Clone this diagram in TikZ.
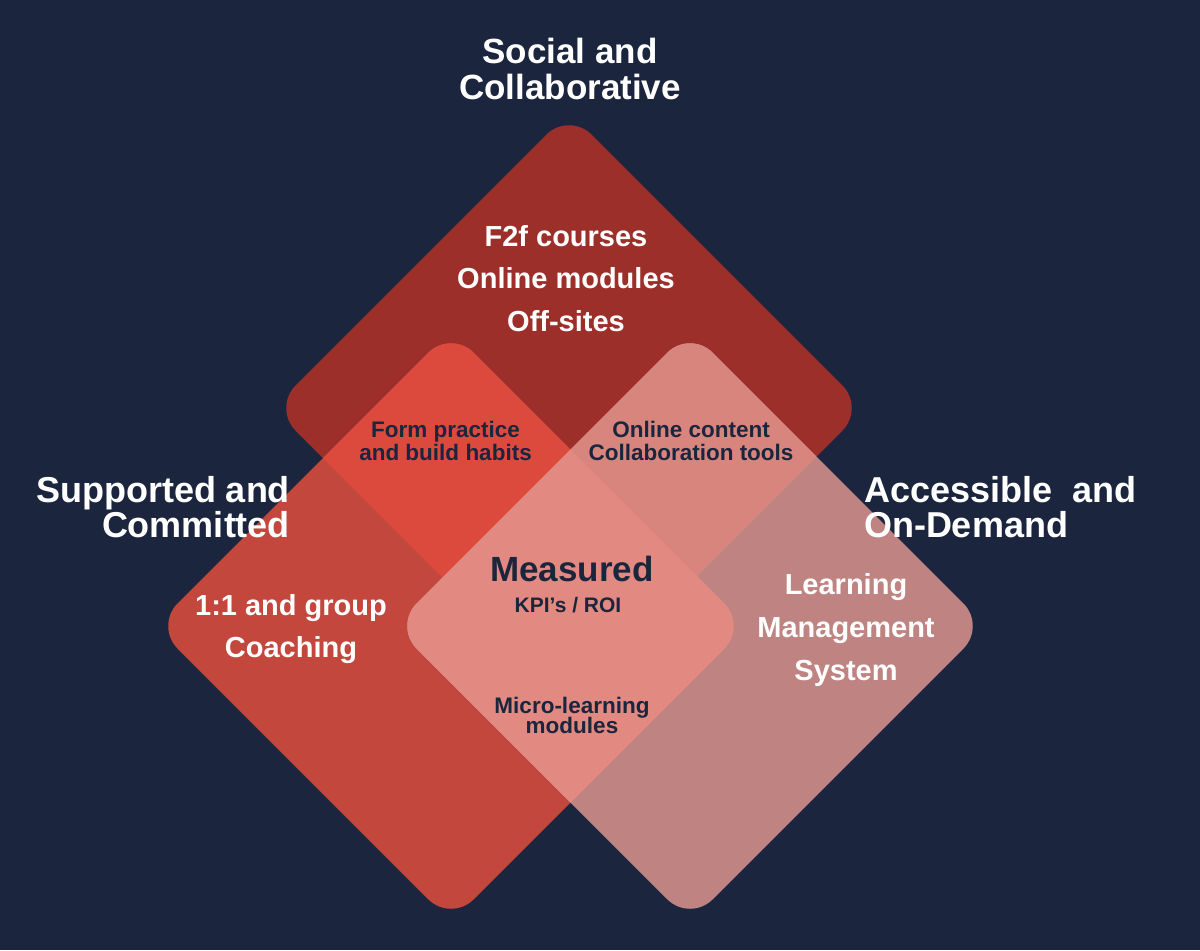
\documentclass[tikz,border=0pt]{standalone}
\usepackage{fontspec}
\setmainfont{Liberation Sans}
\definecolor{bgc}{HTML}{1B263E}
\definecolor{topc}{HTML}{9D2F2A}
\definecolor{leftc}{HTML}{C3473D}
\definecolor{rightc}{HTML}{BF8381}
\definecolor{tlc}{HTML}{DC4A3E}
\definecolor{trc}{HTML}{D7857D}
\definecolor{cenc}{HTML}{E28A81}
\definecolor{navy}{HTML}{1B263E}
\newcommand{\dpath}[2]{(#1-148,#2-148) -- (#1,#2-296) -- (#1+296,#2) -- (#1,#2+296) -- (#1-296,#2) -- cycle}
\newcommand{\fs}[2]{\fontsize{#1}{#2}\selectfont\bfseries\lineskiplimit=-100pt\relax}
\tikzset{
  dia/.style={rounded corners=16pt},
  wlbl/.style={inner sep=0pt, outer sep=0pt, text=white},
  nlbl/.style={inner sep=0pt, outer sep=0pt, text=navy}
}
\begin{document}
\begin{tikzpicture}[x=0.5pt,y=-0.5pt]
\useasboundingbox (0,0) rectangle (1200,950);
\fill[bgc] (0,0) rectangle (1200,950);
% diamonds
\fill[topc,dia] \dpath{569}{408};
\fill[leftc,dia] \dpath{451}{626};
\fill[rightc,dia] \dpath{690}{626};
\begin{scope}
  \clip[dia] \dpath{569}{408};
  \fill[tlc,dia] \dpath{451}{626};
  \fill[trc,dia] \dpath{690}{626};
\end{scope}
\begin{scope}
  \clip[dia] \dpath{451}{626};
  \fill[cenc,dia] \dpath{690}{626};
\end{scope}
% outer titles
\node[wlbl, anchor=north, align=center, font=\fs{17.5}{18}] (social) at (570,38.5) {Social and\\Collaborative};
\node[wlbl, anchor=north east, align=right, font=\fs{18}{17.5}] (supported) at (290,476) {Supported and\\Committed};
\node[wlbl, anchor=north west, align=left, font=\fs{18}{17.5}] (accessible) at (864,476.5) {Accessible\ \ and\\On-Demand};
% white inner labels
\node[wlbl, anchor=north, align=center, font=\fs{14.5}{21.25}] (f2f) at (566,225.2) {F2f courses\\Online modules\\Off-sites};
\node[wlbl, anchor=north, align=center, font=\fs{14.5}{21}] (coach) at (291,594.2) {1:1 and group\\Coaching};
\node[wlbl, anchor=north, align=center, font=\fs{14.5}{21.6}] (lms) at (846,573.5) {Learning\\Management\\System};
% navy labels
\node[nlbl, anchor=north, font=\fs{17.5}{18}] (measured) at (572,556.6) {Measured};
\node[nlbl, anchor=north, font=\fs{10.5}{12}] (kpi) at (568,597.7) {KPI’s / ROI};
\node[nlbl, anchor=north, align=center, font=\fs{11.25}{11.35}] (form) at (445.5,421.2) {Form practice\\and build habits};
\node[nlbl, anchor=north, align=center, font=\fs{11.25}{11.35}] (online) at (691,421.2) {Online content\\Collaboration tools};
\node[nlbl, anchor=north, align=center, font=\fs{11.25}{9.85}] (micro) at (572,697.2) {Micro-learning\\modules};
\end{tikzpicture}
\end{document}
